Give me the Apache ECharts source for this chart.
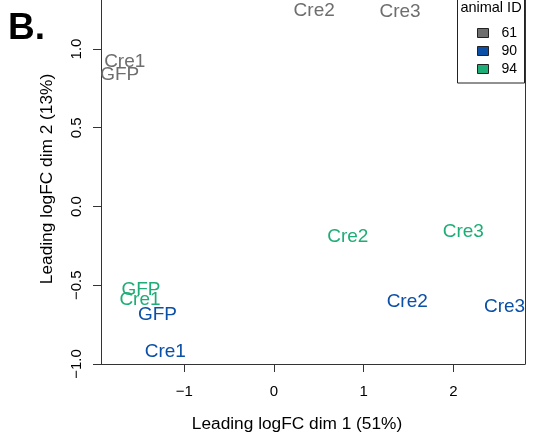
<!DOCTYPE html>
<html><head><meta charset="utf-8">
<script src="https://cdn.jsdelivr.net/npm/echarts@6/dist/echarts.min.js"></script>
<style>html,body{margin:0;padding:0;background:#fff}#c{width:558px;height:438px}</style>
</head><body><div id="c"></div>
<script>
const animalIds = ['61', '90', '94'];
const animalColors = ['#6e6e6e', '#0b50a6', '#1fad77'];

const labels61 = ['Cre2', 'Cre3', 'Cre1', 'GFP'];
const dim1_61 = [0.448, 1.405, -1.664, -1.720];
const dim2_61 = [1.249, 1.243, 0.925, 0.842];

const labels90 = ['GFP', 'Cre1', 'Cre2', 'Cre3'];
const dim1_90 = [-1.299, -1.212, 1.485, 2.570];
const dim2_90 = [-0.681, -0.916, -0.598, -0.630];

const labels94 = ['Cre2', 'Cre3', 'GFP', 'Cre1'];
const dim1_94 = [0.823, 2.110, -1.483, -1.494];
const dim2_94 = [-0.189, -0.156, -0.525, -0.583];

const xTicks = [-1, 0, 1, 2];
const yTicks = [-1, -0.5, 0, 0.5, 1];

const FONT = "'Liberation Sans', Arial, sans-serif";
const groups = [
  [labels61, dim1_61, dim2_61],
  [labels90, dim1_90, dim2_90],
  [labels94, dim1_94, dim2_94]
];

function fmt(v, d) {
  const s = Math.abs(v).toFixed(d);
  return (v < 0 ? '\u2212' : '') + s;
}

const series = groups.map((g, i) => ({
  name: animalIds[i],
  type: 'scatter',
  symbol: 'circle',
  symbolSize: 0,
  itemStyle: { color: animalColors[i], opacity: 1 },
  label: {
    show: true,
    position: 'inside',
    offset: [0, 1],
    formatter: p => p.data[2],
    color: animalColors[i],
    opacity: 1,
    fontSize: 19,
    fontFamily: FONT
  },
  emphasis: { disabled: true },
  data: g[0].map((n, k) => [g[1][k], g[2][k], n])
}));

const YMIN = -1, YMAX = 1.311;
const chart = echarts.init(document.getElementById('c'), null, { renderer: 'canvas' });
chart.setOption({
  animation: false,
  backgroundColor: '#fff',
  grid: { left: 101, right: 33, top: 0, bottom: 74, show: false },
  xAxis: {
    type: 'value', min: -1.9287, max: 2.798,
    splitLine: { show: false },
    axisLine: { show: true, onZero: false, lineStyle: { color: '#333', width: 1 } },
    axisTick: { show: true, inside: false, length: 8, lineStyle: { color: '#333' }, customValues: xTicks },
    axisLabel: { customValues: xTicks, formatter: v => fmt(v, 0), fontSize: 15, color: '#000', fontFamily: FONT, margin: 20 }
  },
  yAxis: [{
    type: 'value', min: YMIN, max: YMAX,
    splitLine: { show: false },
    axisLine: { show: true, onZero: false, lineStyle: { color: '#333', width: 1 } },
    axisTick: { show: true, inside: false, length: 8, lineStyle: { color: '#333' }, customValues: yTicks },
    axisLabel: { customValues: yTicks, formatter: v => fmt(v, 1), rotate: 90, fontSize: 15, color: '#000', fontFamily: FONT, margin: 17 }
  }, {
    type: 'value', min: YMIN, max: YMAX, position: 'right',
    splitLine: { show: false },
    axisLine: { show: true, onZero: false, lineStyle: { color: '#333', width: 1 } },
    axisTick: { show: false },
    axisLabel: { show: false }
  }],
  legend: {
    data: animalIds,
    orient: 'vertical',
    left: 477, top: 26,
    padding: 0,
    icon: 'rect',
    itemWidth: 11, itemHeight: 9, itemGap: 4,
    itemStyle: { borderColor: '#222', borderWidth: 1, opacity: 1 },
    textStyle: { fontSize: 14, color: '#000', fontFamily: FONT, lineHeight: 14, padding: [0, 0, 0, 8] },
    selectedMode: false
  },
  graphic: [
    { type: 'rect', shape: { x: 457.5, y: -5, width: 67, height: 88 }, style: { fill: '#fff', stroke: '#222', lineWidth: 1 }, z: 0 },
    { type: 'text', x: 491, y: 8, style: { text: 'animal ID', fontSize: 14.5, fontFamily: FONT, fill: '#000', textAlign: 'center', textVerticalAlign: 'middle' }, z: 5 },
    { type: 'text', x: 8, y: 29, style: { text: 'B.', fontSize: 37, fontWeight: 'bold', fontFamily: FONT, fill: '#000', textAlign: 'left', textVerticalAlign: 'middle' } },
    { type: 'text', x: 297, y: 424, style: { text: 'Leading logFC dim 1 (51%)', fontSize: 17.3, fontFamily: FONT, fill: '#000', textAlign: 'center', textVerticalAlign: 'middle' } },
    { type: 'text', x: 47, y: 179, rotation: Math.PI / 2, style: { text: 'Leading logFC dim 2 (13%)', fontSize: 17.3, fontFamily: FONT, fill: '#000', textAlign: 'center', textVerticalAlign: 'middle' } }
  ],
  series: series
});
</script></body></html>
